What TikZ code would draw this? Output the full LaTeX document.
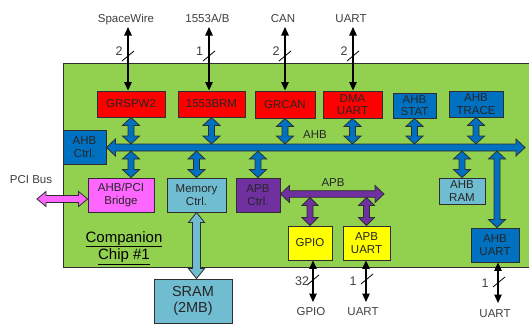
\documentclass[tikz,border=0pt]{standalone}
\usepackage{fontspec}
\setmainfont{Liberation Sans}
\usetikzlibrary{arrows.meta,calc}
\definecolor{chipgreen}{HTML}{92D050}
\definecolor{ahbblue}{HTML}{0070C0}
\definecolor{apbpurple}{HTML}{7030A0}
\definecolor{pcipink}{HTML}{FF66FF}
\definecolor{lblue}{HTML}{70BCD0}
\definecolor{ybox}{HTML}{FFFF00}
\definecolor{rbox}{HTML}{FF0000}
\definecolor{edge}{HTML}{2E2E2E}
\definecolor{txt}{HTML}{262626}
\definecolor{labtxt}{HTML}{404040}
\newcommand\fatV[6]{%
  \path[fat,fill=#1] let \p1=#2, \p2=#3 in
   (\x1,\y1) -- (\x1-#5pt,\y1-#6pt) -- (\x1-#4pt,\y1-#6pt) -- (\x1-#4pt,\y2+#6pt)
   -- (\x1-#5pt,\y2+#6pt) -- (\x1,\y2) -- (\x1+#5pt,\y2+#6pt) -- (\x1+#4pt,\y2+#6pt)
   -- (\x1+#4pt,\y1-#6pt) -- (\x1+#5pt,\y1-#6pt) -- cycle;}
\newcommand\fatH[6]{%
  \path[fat,fill=#1] let \p1=#2, \p2=#3 in
   (\x1,\y1) -- (\x1+#6pt,\y1+#5pt) -- (\x1+#6pt,\y1+#4pt) -- (\x2-#6pt,\y1+#4pt)
   -- (\x2-#6pt,\y1+#5pt) -- (\x2,\y1) -- (\x2-#6pt,\y1-#5pt) -- (\x2-#6pt,\y1-#4pt)
   -- (\x1+#6pt,\y1-#4pt) -- (\x1+#6pt,\y1-#5pt) -- cycle;}
\begin{document}
\begin{tikzpicture}[x=1pt,y=-1pt,
  box/.style={draw=edge, line width=0.9pt, text=txt, font=\fontsize{11.5}{12.5}\selectfont, align=center, inner sep=0pt},
  lab/.style={text=labtxt, font=\fontsize{11.5}{13}\selectfont, inner sep=0pt},
  num/.style={text=labtxt, font=\fontsize{12.5}{13}\selectfont, inner sep=0pt},
  sig/.style={draw=black, line width=1.1pt, {Triangle[length=8.5pt,width=7.5pt]}-{Triangle[length=8.5pt,width=7.5pt]}},
  tick/.style={draw=black, line width=0.8pt},
  fat/.style={draw=edge, line width=0.8pt, line join=miter}]
\useasboundingbox (0,0) rectangle (529,324);
\fill[white] (0,0) rectangle (529,324);
% chip
\node[draw=edge, line width=0.9pt, fill=chipgreen, minimum width=470pt, minimum height=204pt, anchor=north west, inner sep=0pt] (chip) at (63,63) {};
\node[font=\fontsize{15}{17.5}\selectfont, align=center, text=black] (chiplab) at (124,248) {\underline{Companion}\\\underline{Chip \#1}};
% top row
\node[box, fill=rbox, minimum width=68pt, minimum height=26pt] (grspw) at (131,104) {GRSPW2};
\node[box, fill=rbox, minimum width=67pt, minimum height=26pt] (brm) at (211.5,104) {1553BRM};
\node[box, fill=rbox, minimum width=60pt, minimum height=27pt] (grcan) at (285,104.5) {GRCAN};
\node[box, fill=rbox, minimum width=59pt, minimum height=27pt] (dma) at (352.5,104.5) {DMA\\UART};
\node[box, fill=ahbblue, minimum width=43pt, minimum height=25pt] (stat) at (414.5,105.5) {AHB\\STAT};
\node[box, fill=ahbblue, minimum width=54pt, minimum height=26pt] (trace) at (476,104) {AHB\\TRACE};
% second row
\node[box, fill=ahbblue, minimum width=43pt, minimum height=34pt] (ahbc) at (84.5,147) {AHB\\Ctrl.};
\node[box, fill=pcipink, minimum width=66pt, minimum height=34pt] (bridge) at (121,195) {AHB/PCI\\Bridge};
\node[box, fill=lblue, minimum width=59pt, minimum height=34pt] (mem) at (196.5,195) {Memory\\Ctrl.};
\node[box, fill=apbpurple, minimum width=44pt, minimum height=34pt] (apbc) at (258,195) {APB\\Ctrl.};
\node[box, fill=lblue, minimum width=46pt, minimum height=26pt] (ram) at (462,191) {AHB\\RAM};
\node[box, fill=ahbblue, minimum width=48pt, minimum height=34pt] (ahbuart) at (495,245) {AHB\\UART};
\node[box, fill=ybox, minimum width=44pt, minimum height=34pt] (gpio) at (310,243) {GPIO};
\node[box, fill=ybox, minimum width=47pt, minimum height=34pt] (apbuart) at (366.5,243) {APB\\UART};
\node[box, fill=lblue, minimum width=78pt, minimum height=44pt, font=\fontsize{14.5}{16}\selectfont] (sram) at (193,301) {SRAM\\(2MB)};
% AHB bus
\coordinate (busR) at (525,147.5);
\coordinate (busT) at (0,144);
\coordinate (busB) at (0,151);
\fatH{ahbblue}{(ahbc.east |- busR)}{(busR)}{3.5}{8.5}{9}
\node[lab, text=txt] (ahblab) at (315,135) {AHB};
\foreach \bx in {grspw,brm,grcan,dma,stat,trace}{
  \fatV{ahbblue}{(\bx.south)}{(\bx.south |- busT)}{3}{8.5}{8}
}
\fatV{ahbblue}{(grspw.south |- busB)}{(grspw.south |- bridge.north)}{3}{8.5}{8}
\fatV{ahbblue}{(mem.north |- busB)}{(mem.north)}{3}{8.5}{8}
\fatV{ahbblue}{(apbc.north |- busB)}{(apbc.north)}{3}{8.5}{8}
\fatV{ahbblue}{(ram.north |- busB)}{(ram.north)}{3}{8.5}{8}
\fatV{ahbblue}{([xshift=2pt]ahbuart.north |- busB)}{([xshift=2pt]ahbuart.north)}{3}{8.5}{8}
% APB bus
\coordinate (apbR) at (384,194);
\coordinate (apbB) at (0,197.5);
\fatH{apbpurple}{(apbc.east |- apbR)}{(apbR)}{3.3}{8.5}{9}
\node[lab, text=txt] (apblab) at (333,183) {APB};
\fatV{apbpurple}{(gpio.north |- apbB)}{(gpio.north)}{3}{8}{8}
\fatV{apbpurple}{(apbuart.north |- apbB)}{(apbuart.north)}{3}{8}{8}
% PCI
\coordinate (pciL) at (37,199);
\fatH{pcipink}{(pciL)}{(bridge.west |- pciL)}{3.5}{7.5}{9}
\node[lab] (pcilab) at (31,180) {PCI Bus};
% SRAM
\fatV{lblue}{(mem.south)}{(mem.south |- sram.north)}{4}{8}{10}
% top signals
\coordinate (spwE) at (128,27);
\coordinate (brmE) at (209,27);
\coordinate (canE) at (285,27);
\coordinate (uartE) at (353,27);
\node[lab, anchor=base] (lspw) at (126,22.5) {SpaceWire};
\node[lab, anchor=base] (l1553) at (207.5,22.5) {1553A/B};
\node[lab, anchor=base] (lcan) at (283,22.5) {CAN};
\node[lab, anchor=base] (luart) at (351,22.5) {UART};
\draw[sig] (spwE) -- (spwE |- grspw.north);
\draw[sig] (brmE) -- (brmE |- brm.north);
\draw[sig] (canE) -- (canE |- grcan.north);
\draw[sig] (uartE) -- (uartE |- dma.north);
\foreach \c in {spwE,brmE,canE,uartE}{
  \draw[tick] ([shift={(-6,34)}]\c) -- ++(12,-10);
}
\node[num] (n1) at (119,51.5) {2};
\node[num] (n2) at (199.5,51.5) {1};
\node[num] (n3) at (276,51.5) {2};
\node[num] (n4) at (344,51.5) {2};
% bottom signals
\coordinate (gpioE) at (313,302);
\coordinate (apbuE) at (366,302);
\coordinate (ahbuE) at (498,303);
\draw[sig] (gpioE |- gpio.south) -- (gpioE);
\draw[sig] (apbuE |- apbuart.south) -- (apbuE);
\draw[sig] (ahbuE |- ahbuart.south) -- (ahbuE);
\draw[tick] ([shift={(-6,-17)}]gpioE) -- ++(12,-10);
\draw[tick] ([shift={(-5,-18)}]apbuE) -- ++(12,-10);
\draw[tick] ([shift={(-5,-16)}]ahbuE) -- ++(12,-10);
\node[num] (n5) at (302,281) {32};
\node[num] (n6) at (353,281) {1};
\node[num] (n7) at (485,283) {1};
\node[lab, anchor=base] (lgpio) at (311,315) {GPIO};
\node[lab, anchor=base] (luart2) at (363,315) {UART};
\node[lab, anchor=base] (luart3) at (495,317) {UART};
\end{tikzpicture}
\end{document}
